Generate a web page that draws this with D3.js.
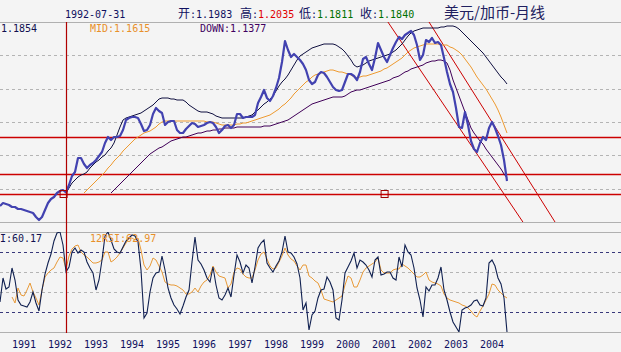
<!DOCTYPE html>
<html>
<head>
<meta charset="utf-8">
<script src="https://cdn.jsdelivr.net/npm/d3@7"></script>
<style>
body { margin: 0; background: #f4f4f4; }
svg { display: block; }
.mono { font-family: "DejaVu Sans Mono", monospace; font-size: 10px; }
.cjk { font-family: "Noto Sans CJK SC", sans-serif; font-size: 12px; }
</style>
</head>
<body>
<div id="drawing"></div>
<script>
"use strict"

/**** CONFIGURATION ****/

let svgWidth = 621
let svgHeight = 352

let mainTop = 22
let mainBottom = 222
let rsiTop = 232
let rsiBottom = 332


/**** DATA (month index: 0 = Jan 1990) ****/

let closeStart = 8
let closePrice = [
1.150, 1.1575, 1.155, 1.1525,
1.1475, 1.1475, 1.1425, 1.1425, 1.140, 1.1375, 1.135, 1.1325, 1.1225, 1.115, 1.1225, 1.140,
1.1575, 1.1675, 1.1725, 1.1825, 1.1875, 1.190, 1.184, 1.2025, 1.225, 1.235, 1.270, 1.270,
1.255, 1.245, 1.2525, 1.2575, 1.265, 1.275, 1.285, 1.3075, 1.3225, 1.315, 1.3225, 1.3225,
1.325, 1.340, 1.365, 1.370, 1.3725, 1.3725, 1.370, 1.355, 1.3375, 1.340, 1.3525, 1.380,
1.395, 1.3875, 1.3825, 1.3525, 1.360, 1.3625, 1.3625, 1.340, 1.3325, 1.3325, 1.3425, 1.350,
1.3575, 1.355, 1.3475, 1.350, 1.3525, 1.3575, 1.360, 1.3575, 1.3475, 1.3325, 1.340, 1.350,
1.3525, 1.345, 1.3525, 1.380, 1.380, 1.370, 1.3725, 1.3725, 1.3725, 1.3775, 1.4075, 1.4225,
1.440, 1.420, 1.4125, 1.425, 1.445, 1.470, 1.510, 1.5625, 1.540, 1.5225, 1.530, 1.5225,
1.515, 1.505, 1.490, 1.465, 1.455, 1.460, 1.4775, 1.485, 1.4825, 1.4725, 1.460, 1.4475,
1.440, 1.4375, 1.440, 1.460, 1.480, 1.480, 1.475, 1.465, 1.485, 1.5175, 1.5225, 1.505,
1.490, 1.520, 1.5575, 1.540, 1.5225, 1.510, 1.5275, 1.545, 1.560, 1.5725, 1.5675, 1.5775,
1.5825, 1.5875, 1.5775, 1.5525, 1.515, 1.5275, 1.565, 1.560, 1.570, 1.5575, 1.560, 1.5525,
1.520, 1.485, 1.455, 1.435, 1.395, 1.3475, 1.345, 1.385, 1.3525, 1.3125, 1.2925, 1.285,
1.3075, 1.3225, 1.315, 1.345, 1.360, 1.345, 1.325, 1.3025, 1.265, 1.2125
]

let upStart = 30
let upBand = [
1.1825, 1.195, 1.2075, 1.215, 1.2225, 1.2275,
1.230, 1.235, 1.245, 1.2525, 1.260, 1.265, 1.2725, 1.2775, 1.2875, 1.295, 1.3075, 1.3275,
1.3475, 1.365, 1.370, 1.3725, 1.375, 1.3775, 1.380, 1.3825, 1.3875, 1.3925, 1.3975, 1.4025,
1.410, 1.4175, 1.420, 1.420, 1.420, 1.4175, 1.4175, 1.415, 1.415, 1.415, 1.410, 1.4025,
1.3975, 1.3925, 1.3875, 1.385, 1.385, 1.385, 1.3825, 1.380, 1.375, 1.3725, 1.370, 1.370,
1.370, 1.370, 1.370, 1.370, 1.370, 1.370, 1.3725, 1.375, 1.3775, 1.385, 1.390, 1.3975,
1.405, 1.410, 1.4175, 1.425, 1.4375, 1.450, 1.460, 1.4675, 1.4775, 1.490, 1.5025, 1.515,
1.525, 1.530, 1.535, 1.540, 1.545, 1.5475, 1.550, 1.5525, 1.555, 1.555, 1.555, 1.555,
1.5525, 1.5475, 1.5425, 1.535, 1.525, 1.515, 1.5025, 1.4975, 1.500, 1.5025, 1.5075, 1.5125,
1.515, 1.5175, 1.520, 1.5225, 1.525, 1.5275, 1.530, 1.535, 1.540, 1.5475, 1.555, 1.565,
1.575, 1.5825, 1.5875, 1.590, 1.5925, 1.595, 1.595, 1.595, 1.595, 1.595, 1.595, 1.5975,
1.5975, 1.600, 1.600, 1.600, 1.5975, 1.5925, 1.585, 1.5775, 1.570, 1.5625, 1.555, 1.5475,
1.540, 1.5325, 1.5225, 1.5125, 1.5025, 1.4925, 1.4825, 1.4725, 1.465, 1.455
]

let midStart = 36
let midBand = [
1.1825, 1.190, 1.1975, 1.205, 1.2125, 1.220, 1.2275, 1.235, 1.245, 1.2525, 1.2625, 1.270,
1.2775, 1.2875, 1.295, 1.3025, 1.310, 1.3175, 1.3225, 1.3275, 1.3325, 1.335, 1.3375, 1.3425,
1.3475, 1.355, 1.360, 1.3625, 1.3625, 1.3625, 1.3625, 1.3625, 1.3625, 1.3625, 1.3625, 1.3625,
1.3625, 1.3625, 1.3625, 1.3625, 1.3625, 1.360, 1.360, 1.360, 1.3575, 1.355, 1.3525, 1.3525,
1.3525, 1.3525, 1.3525, 1.355, 1.355, 1.3575, 1.3575, 1.360, 1.3625, 1.365, 1.3675, 1.370,
1.3725, 1.375, 1.3775, 1.3825, 1.3875, 1.3925, 1.400, 1.405, 1.4125, 1.420, 1.430, 1.4375,
1.445, 1.4525, 1.460, 1.465, 1.4725, 1.4775, 1.480, 1.4825, 1.485, 1.4875, 1.490, 1.490,
1.4875, 1.485, 1.485, 1.4825, 1.480, 1.4775, 1.4725, 1.470, 1.4725, 1.475, 1.475, 1.4775,
1.480, 1.4825, 1.485, 1.4875, 1.4925, 1.495, 1.500, 1.505, 1.510, 1.515, 1.520, 1.5275,
1.535, 1.540, 1.545, 1.5475, 1.550, 1.5525, 1.555, 1.555, 1.555, 1.555, 1.555, 1.5525,
1.5525, 1.5525, 1.5475, 1.545, 1.540, 1.535, 1.5275, 1.5175, 1.5075, 1.4975, 1.485, 1.4725,
1.4625, 1.4525, 1.4425, 1.430, 1.4175, 1.405, 1.390, 1.3725, 1.3525, 1.3325
]

let downStart = 45
let downBand = [
1.1825, 1.190, 1.1975,
1.205, 1.2125, 1.220, 1.2275, 1.235, 1.2425, 1.250, 1.2575, 1.265, 1.2725, 1.280, 1.285,
1.290, 1.295, 1.2975, 1.3025, 1.3075, 1.3125, 1.315, 1.3175, 1.320, 1.3225, 1.3225, 1.325,
1.3275, 1.330, 1.3325, 1.3325, 1.335, 1.3375, 1.3375, 1.340, 1.340, 1.3425, 1.3425, 1.345,
1.345, 1.345, 1.345, 1.3475, 1.3475, 1.3475, 1.3475, 1.3475, 1.3475, 1.3475, 1.3475, 1.3475,
1.350, 1.350, 1.350, 1.3525, 1.355, 1.3575, 1.360, 1.3625, 1.365, 1.370, 1.375, 1.380,
1.385, 1.390, 1.395, 1.400, 1.405, 1.4075, 1.410, 1.4125, 1.415, 1.4175, 1.420, 1.4225,
1.4225, 1.4225, 1.4225, 1.425, 1.430, 1.435, 1.4375, 1.440, 1.440, 1.4425, 1.445, 1.4475,
1.450, 1.4525, 1.455, 1.4575, 1.460, 1.4625, 1.465, 1.470, 1.4725, 1.475, 1.480, 1.485,
1.4875, 1.4925, 1.495, 1.4975, 1.500, 1.5025, 1.5075, 1.510, 1.5125, 1.5125, 1.515, 1.515,
1.5125, 1.5075, 1.490, 1.465, 1.445, 1.425, 1.405, 1.385, 1.365, 1.345, 1.3325, 1.3225,
1.3125, 1.305, 1.2925, 1.2825, 1.2725, 1.2625, 1.2525, 1.2425, 1.230, 1.220
]

let rsi6Start = 8
let rsi6 = [
30, 54, 43, 45,
64, 52, 32, 27, 26, 25, 30, 40, 29, 21, 42, 58,
69, 78, 91, 99, 100, 87, 60.17, 65, 80, 84, 79, 82,
80, 70, 64, 59, 42, 52, 72, 96, 100, 92, 83, 80,
79, 85, 91, 94, 97, 96, 90, 62, 14, 19, 40, 54,
59, 60, 76, 62, 44, 34, 27, 23, 18, 26, 35, 42,
70, 95, 72, 68, 62, 54, 50, 65, 47, 34, 32, 37,
44, 35, 57, 77, 70, 59, 67, 64, 49, 65, 84, 89,
92, 69, 64, 60, 66, 71, 80, 96, 80, 79, 75, 68,
54, 22, 29, 2, 17, 21, 34, 42, 43, 55, 50, 42,
14, 12, 32, 59, 65, 71, 79, 64, 72, 70, 67, 62,
55, 72, 75, 57, 58, 60, 60, 54, 52, 75, 65, 87,
80, 77, 64, 44, 32, 15, 45, 41, 47, 47, 54, 65,
42, 32, 20, 10, 5, 0, 22, 24, 25, 27, 31, 32,
27, 26, 34, 69, 72, 66, 54, 48, 34, 0
]

let rsi12Start = 12
let rsi12 = [
35, 29, 44, 37, 36, 42, 49, 40, 34, 27, 42, 55,
59, 62, 64, 70, 75, 74, 62.97, 76, 83, 86, 87, 80,
77, 75, 72, 69, 69, 70, 72, 80, 80, 70, 72, 75,
79, 84, 89, 94, 94, 92, 94, 82, 67, 62, 66, 74,
72, 66, 60, 50, 48, 47, 47, 46, 44, 42, 38, 38,
40, 44, 40, 46, 50, 52, 57, 66, 60, 56, 55, 54,
44, 48, 60, 64, 63, 58, 55, 54, 54, 62, 72, 78,
80, 73, 66, 63, 64, 70, 76, 84, 77, 73, 71, 66,
62, 67, 67, 56, 54, 51, 49, 42, 33, 32, 31, 30,
32, 34, 36, 47, 56, 54, 45, 45, 52, 60, 64, 66,
68, 70, 74, 62, 59, 59, 59, 62, 63, 63, 68, 66,
64, 61, 58, 55, 55, 57, 60, 52, 50, 49, 48, 46,
38, 34, 32, 31, 30, 29, 27, 26, 24, 21, 17, 15,
21, 26, 32, 38, 48, 47, 42, 39, 36, 34
]

let years = [1991, 1992, 1993, 1994, 1995, 1996, 1997, 1998, 1999, 2000, 2001, 2002, 2003, 2004]

// drawn objects: horizontal levels, trend lines [month, price], square marks
let levels = [1.3225, 1.230, 1.180]
let trendLines = [
[[137.3, 1.61], [182.3, 1.11]],
[[151, 1.61], [193, 1.11]]
]
let squares = [[29.2, 1.18], [136.2, 1.18]]
let cursorMonth = 30

let rsiLevels = [80, 60, 40, 20]

let headDate = "1992-07-31"
let quote = [
{label:"开:", value:"1.1983", color:"#101060"},
{label:"高:", value:"1.2035", color:"#e00000"},
{label:"低:", value:"1.1811", color:"#007000"},
{label:"收:", value:"1.1840", color:"#007000"}
]
let title = "美元/加币-月线"
// the left-most labels are shown as far as the reference shows them
let bandLabels = [
{text:"1.1854", color:"#101050"},
{text:"MID:1.1615", color:"#e8902a"},
{text:"DOWN:1.1377", color:"#400060"}
]
let rsiLabels = [
{text:"I:60.17", color:"#101050"},
{text:"12RSI:62.97", color:"#e8902a"}
]


/**** CANVAS SETUP ****/

let svg = d3.select("#drawing")
.append("svg")
.attr("width", svgWidth)
.attr("height", svgHeight)

svg.append("rect")
.attr("width", svgWidth)
.attr("height", svgHeight)
.attr("fill", "#f4f4f4")

let defs = svg.append("defs")
defs.append("clipPath").attr("id", "clipMain")
.append("rect").attr("x", 0).attr("y", mainTop).attr("width", svgWidth).attr("height", mainBottom - mainTop)
defs.append("clipPath").attr("id", "clipRsi")
.append("rect").attr("x", 0).attr("y", rsiTop).attr("width", svgWidth).attr("height", rsiBottom - rsiTop)


/**** SCALES ****/

let xScale = d3.scaleLinear()
.domain([8, 215])
.range([0, svgWidth])

let yScale = d3.scaleLinear()
.domain([1.11, 1.61])
.range([mainBottom, mainTop])

let rScale = d3.scaleLinear()
.domain([0, 100])
.range([rsiBottom, rsiTop])


/**** GRID ****/

let mainGrid = d3.range(1, 6).map(k => yScale.invert(mainTop + k * (mainBottom - mainTop) / 6))

svg.selectAll(".mainGrid")
.data(mainGrid)
.join("line")
.attr("x1", 0).attr("x2", svgWidth)
.attr("y1", d => Math.round(yScale(d)) + 0.5)
.attr("y2", d => Math.round(yScale(d)) + 0.5)
.attr("stroke", "#b4b4b4")
.attr("stroke-dasharray", "3,3")

svg.selectAll(".rsiGrid")
.data(rsiLevels)
.join("line")
.attr("x1", 0).attr("x2", svgWidth)
.attr("y1", d => rScale(d) + 0.5)
.attr("y2", d => rScale(d) + 0.5)
.attr("stroke", d => (d == 80 || d == 20) ? "#38387a" : "#b4b4b4")
.attr("stroke-dasharray", "3,3")

svg.selectAll(".border")
.data([mainTop, mainBottom, rsiTop, rsiBottom])
.join("line")
.attr("x1", 0).attr("x2", svgWidth)
.attr("y1", d => d + 0.5).attr("y2", d => d + 0.5)
.attr("stroke", "#b0b0b0")


/**** MAIN PANEL ****/

let main = svg.append("g").attr("clip-path", "url(#clipMain)")

main.selectAll(".level")
.data(levels)
.join("line")
.attr("x1", 0).attr("x2", svgWidth)
.attr("y1", d => Math.round(yScale(d)) + 0.5)
.attr("y2", d => Math.round(yScale(d)) + 0.5)
.attr("stroke", "#cc0000")
.attr("stroke-width", 1.3)

main.selectAll(".trend")
.data(trendLines)
.join("line")
.attr("x1", d => xScale(d[0][0])).attr("y1", d => yScale(d[0][1]))
.attr("x2", d => xScale(d[1][0])).attr("y2", d => yScale(d[1][1]))
.attr("stroke", "#cc0000")
.attr("stroke-width", 1)

function seriesLine(start, values, scale) {
    return d3.line()
    .x((d, i) => xScale(start + i))
    .y(d => scale(d))(values)
}

let bands = [
{start:downStart, values:downBand, color:"#400058"},
{start:midStart, values:midBand, color:"#ee9a30"},
{start:upStart, values:upBand, color:"#101040"}
]

main.selectAll(".band")
.data(bands)
.join("path")
.attr("d", d => seriesLine(d.start, d.values, yScale))
.attr("fill", "none")
.attr("stroke", d => d.color)
.attr("stroke-width", 1)

main.append("path")
.attr("d", seriesLine(closeStart, closePrice, yScale))
.attr("fill", "none")
.attr("stroke", "#4242b0")
.attr("stroke-width", 2.2)
.attr("stroke-linejoin", "round")

main.selectAll(".mark")
.data(squares)
.join("rect")
.attr("x", d => xScale(d[0]) - 3.5)
.attr("y", d => yScale(d[1]) - 3.5)
.attr("width", 7)
.attr("height", 7)
.attr("fill", "none")
.attr("stroke", "#a00000")


/**** RSI PANEL ****/

let rsi = svg.append("g").attr("clip-path", "url(#clipRsi)")

rsi.append("path")
.attr("d", seriesLine(rsi12Start, rsi12, rScale))
.attr("fill", "none")
.attr("stroke", "#e89a38")
.attr("stroke-width", 1)

rsi.append("path")
.attr("d", seriesLine(rsi6Start, rsi6, rScale))
.attr("fill", "none")
.attr("stroke", "#102050")
.attr("stroke-width", 1.1)


/**** CURSOR ****/

svg.append("line")
.attr("x1", xScale(cursorMonth) + 0.5).attr("x2", xScale(cursorMonth) + 0.5)
.attr("y1", mainTop).attr("y2", rsiBottom + 1)
.attr("stroke", "#b00000")
.attr("stroke-width", 1.2)


/**** TEXTS ****/

svg.append("text")
.attr("class", "mono")
.attr("x", 65).attr("y", 18)
.attr("fill", "#101060")
.text(headDate)

let quoteX = [178, 240, 299, 360]
quote.forEach(function(q, i){
    let t = svg.append("text")
    .attr("x", quoteX[i]).attr("y", 18)
    t.append("tspan").attr("class", "cjk").attr("fill", "#101060").text(q.label.slice(0, 1))
    t.append("tspan").attr("class", "mono").attr("fill", "#101060").text(q.label.slice(1))
    t.append("tspan").attr("class", "mono").attr("fill", q.color).text(q.value)
})

svg.append("text")
.attr("x", 444).attr("y", 18)
.style("font-family", "'Noto Sans CJK SC', sans-serif")
.style("font-size", "15px")
.attr("fill", "#202060")
.text(title)

let bandX = [1, 90, 200]
bandLabels.forEach(function(b, i){
    svg.append("text")
    .attr("class", "mono")
    .attr("x", bandX[i]).attr("y", 32)
    .attr("fill", b.color)
    .text(b.text)
})

let rsiX = [0, 90]
rsiLabels.forEach(function(b, i){
    svg.append("text")
    .attr("class", "mono")
    .attr("x", rsiX[i]).attr("y", 242)
    .attr("fill", b.color)
    .text(b.text)
})

svg.selectAll(".year")
.data(years)
.join("text")
.attr("class", "mono")
.attr("x", d => xScale((d - 1990) * 12))
.attr("y", 348)
.attr("fill", "#101060")
.text(d => d)
</script>
</body>
</html>
